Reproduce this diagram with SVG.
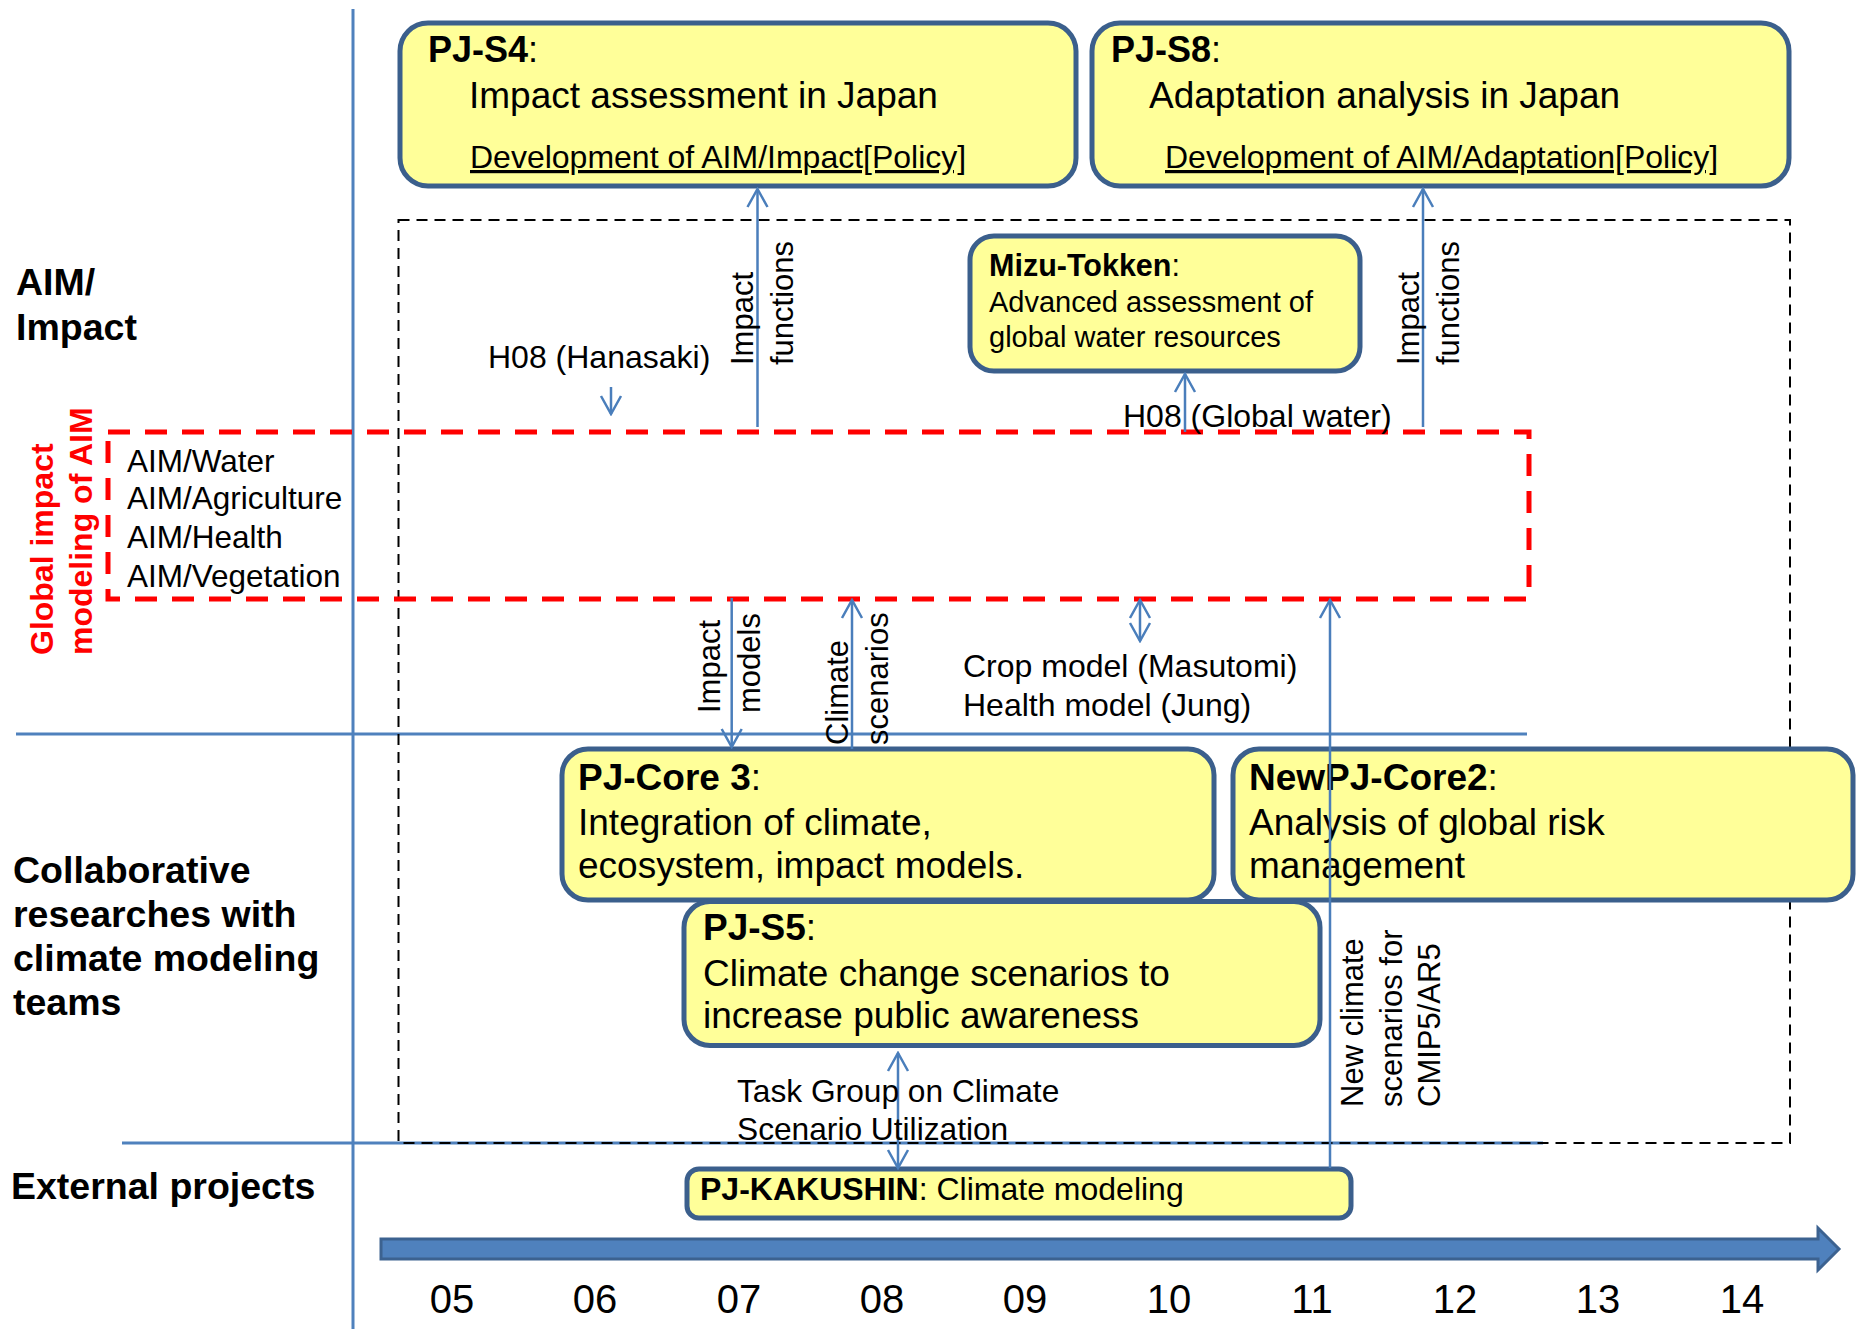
<svg xmlns="http://www.w3.org/2000/svg" width="1856" height="1329" viewBox="0 0 1856 1329">
<style>
text{font-family:"Liberation Sans",Arial,sans-serif;fill:#000}
.box{fill:#FFFF99;stroke:#3B5F8C;stroke-width:5}
.b{font-weight:bold}
.t37{font-size:37px}
.t31{font-size:32px}
.t29{font-size:29px}
.rot{font-size:31px}
.lane{font-size:37.5px;font-weight:bold}
.grid{stroke:#4F81BD;stroke-width:3;fill:none}
.conn{stroke:#4A7EBB;stroke-width:2.5;fill:none}
.yr{font-size:40px;text-anchor:middle}
</style>
<defs>
<marker id="arr" viewBox="-20 -12 22 24" refX="0" refY="0" markerWidth="22" markerHeight="24" markerUnits="userSpaceOnUse" orient="auto-start-reverse">
<path d="M-18,-10 L0,0 L-18,10" fill="none" stroke="#4A7EBB" stroke-width="2.5"/>
</marker>
</defs>
<rect width="1856" height="1329" fill="#fff"/>

<g id="grid">
<line class="grid" x1="353" y1="9" x2="353" y2="1329"/>
<line class="grid" x1="16" y1="734" x2="1527" y2="734"/>
<line class="grid" x1="122" y1="1143" x2="1543" y2="1143"/>
</g>

<g id="lane-labels">
<text class="lane" x="16" y="295">AIM/</text>
<text class="lane" x="16" y="340">Impact</text>
<text class="lane" x="13" y="883">Collaborative</text>
<text class="lane" x="13" y="927">researches with</text>
<text class="lane" x="13" y="971">climate modeling</text>
<text class="lane" x="13" y="1015">teams</text>
<text class="lane" x="11" y="1199">External projects</text>
</g>

<g id="aim-impact-frame">
<rect x="398.5" y="220" width="1391.5" height="923" fill="none" stroke="#000" stroke-width="2" stroke-dasharray="11 7"/>
</g>

<g id="pj-s4">
<rect class="box" x="400" y="23" width="676" height="163" rx="28"/>
<text x="428" y="62" style="font-size:36px"><tspan class="b">PJ-S4</tspan>:</text>
<text class="t37" x="469" y="108">Impact assessment in Japan</text>
<text class="t31" x="470" y="168" text-decoration="underline">Development of AIM/Impact[Policy]</text>
</g>

<g id="pj-s8">
<rect class="box" x="1092" y="23" width="697" height="163" rx="28"/>
<text x="1111" y="62" style="font-size:36px"><tspan class="b">PJ-S8</tspan>:</text>
<text class="t37" x="1149" y="108">Adaptation analysis in Japan</text>
<text class="t31" x="1165" y="168" text-decoration="underline">Development of AIM/Adaptation[Policy]</text>
</g>

<g id="mizu-tokken">
<rect class="box" x="970" y="236" width="390" height="135" rx="24"/>
<text x="989" y="276" style="font-size:30.5px"><tspan class="b">Mizu-Tokken</tspan>:</text>
<text class="t29" x="989" y="312">Advanced assessment of</text>
<text class="t29" x="989" y="347">global water resources</text>
</g>

<g id="pj-core3">
<rect class="box" x="562" y="749" width="652" height="151" rx="26"/>
<text class="t37" x="578" y="790"><tspan class="b">PJ-Core 3</tspan>:</text>
<text class="t37" x="578" y="835">Integration of climate,</text>
<text class="t37" x="578" y="878">ecosystem, impact models.</text>
</g>

<g id="newpj-core2">
<rect class="box" x="1233" y="749" width="620" height="151" rx="26"/>
<text class="t37" x="1249" y="790"><tspan class="b">NewPJ-Core2</tspan>:</text>
<text class="t37" x="1249" y="835">Analysis of global risk</text>
<text class="t37" x="1249" y="878">management</text>
</g>

<g id="pj-s5">
<rect class="box" x="684" y="901.5" width="636" height="144" rx="26"/>
<text class="t37" x="703" y="940"><tspan class="b">PJ-S5</tspan>:</text>
<text class="t37" x="703" y="986">Climate change scenarios to</text>
<text class="t37" x="703" y="1028">increase public awareness</text>
</g>

<g id="pj-kakushin">
<rect class="box" x="687" y="1169" width="664" height="49" rx="12"/>
<text class="t31" x="700" y="1200"><tspan class="b">PJ-KAKUSHIN</tspan>: Climate modeling</text>
</g>

<g id="global-impact-modeling">
<rect x="108" y="432" width="1421" height="167" fill="none" stroke="#FF0000" stroke-width="5" stroke-dasharray="22 15"/>
<text class="b" transform="translate(53,655) rotate(-90)" style="font-size:32px;fill:#FF0000">Global impact</text>
<text class="b" transform="translate(92,655) rotate(-90)" style="font-size:32px;fill:#FF0000">modeling of AIM</text>
<text x="127" y="472" style="font-size:31.5px">AIM/Water</text>
<text x="127" y="509" style="font-size:31.5px">AIM/Agriculture</text>
<text x="127" y="548" style="font-size:31.5px">AIM/Health</text>
<text x="127" y="587" style="font-size:31.5px">AIM/Vegetation</text>
</g>

<g id="connectors">
<line class="conn" x1="611" y1="387" x2="611" y2="414" marker-end="url(#arr)"/>
<line class="conn" x1="757.5" y1="427" x2="757.5" y2="189" marker-end="url(#arr)"/>
<line class="conn" x1="1423" y1="427" x2="1423" y2="189" marker-end="url(#arr)"/>
<line class="conn" x1="1185" y1="432" x2="1185" y2="374" marker-end="url(#arr)"/>
<line class="conn" x1="731.7" y1="598" x2="731.7" y2="747" marker-end="url(#arr)"/>
<line class="conn" x1="852" y1="749" x2="852" y2="600" marker-end="url(#arr)"/>
<line class="conn" x1="1140" y1="600" x2="1140" y2="641" marker-start="url(#arr)" marker-end="url(#arr)"/>
<line class="conn" x1="1330" y1="1168" x2="1330" y2="600" marker-end="url(#arr)"/>
<line class="conn" x1="898" y1="1053" x2="898" y2="1168" marker-start="url(#arr)" marker-end="url(#arr)"/>
</g>

<g id="connector-labels">
<text class="t31" x="488" y="368">H08 (Hanasaki)</text>
<text class="t31" x="1123" y="427">H08 (Global water)</text>
<text class="rot" transform="translate(753,365) rotate(-90)">Impact</text>
<text class="rot" transform="translate(793,365) rotate(-90)">functions</text>
<text class="rot" transform="translate(1419,365) rotate(-90)">Impact</text>
<text class="rot" transform="translate(1459,365) rotate(-90)">functions</text>
<text class="rot" transform="translate(720,713) rotate(-90)">Impact</text>
<text class="rot" transform="translate(760,713) rotate(-90)">models</text>
<text class="rot" transform="translate(848,745) rotate(-90)">Climate</text>
<text class="rot" transform="translate(888,745) rotate(-90)">scenarios</text>
<text class="t31" x="963" y="677">Crop model (Masutomi)</text>
<text class="t31" x="963" y="716">Health model (Jung)</text>
<text class="rot" transform="translate(1363,1107) rotate(-90)">New climate</text>
<text class="rot" transform="translate(1402,1107) rotate(-90)">scenarios for</text>
<text class="rot" transform="translate(1440,1107) rotate(-90)">CMIP5/AR5</text>
<text x="737" y="1102" style="font-size:31.7px">Task Group on Climate</text>
<text x="737" y="1140" style="font-size:31.7px">Scenario Utilization</text>
</g>

<g id="timeline">
<polygon points="381,1239 1818,1239 1818,1228 1839,1249 1818,1270 1818,1259 381,1259" fill="#4F81BD" stroke="#3C6290" stroke-width="3"/>
<text class="yr" x="452" y="1313">05</text>
<text class="yr" x="595" y="1313">06</text>
<text class="yr" x="739" y="1313">07</text>
<text class="yr" x="882" y="1313">08</text>
<text class="yr" x="1025" y="1313">09</text>
<text class="yr" x="1169" y="1313">10</text>
<text class="yr" x="1312" y="1313">11</text>
<text class="yr" x="1455" y="1313">12</text>
<text class="yr" x="1598" y="1313">13</text>
<text class="yr" x="1742" y="1313">14</text>
</g>
</svg>
